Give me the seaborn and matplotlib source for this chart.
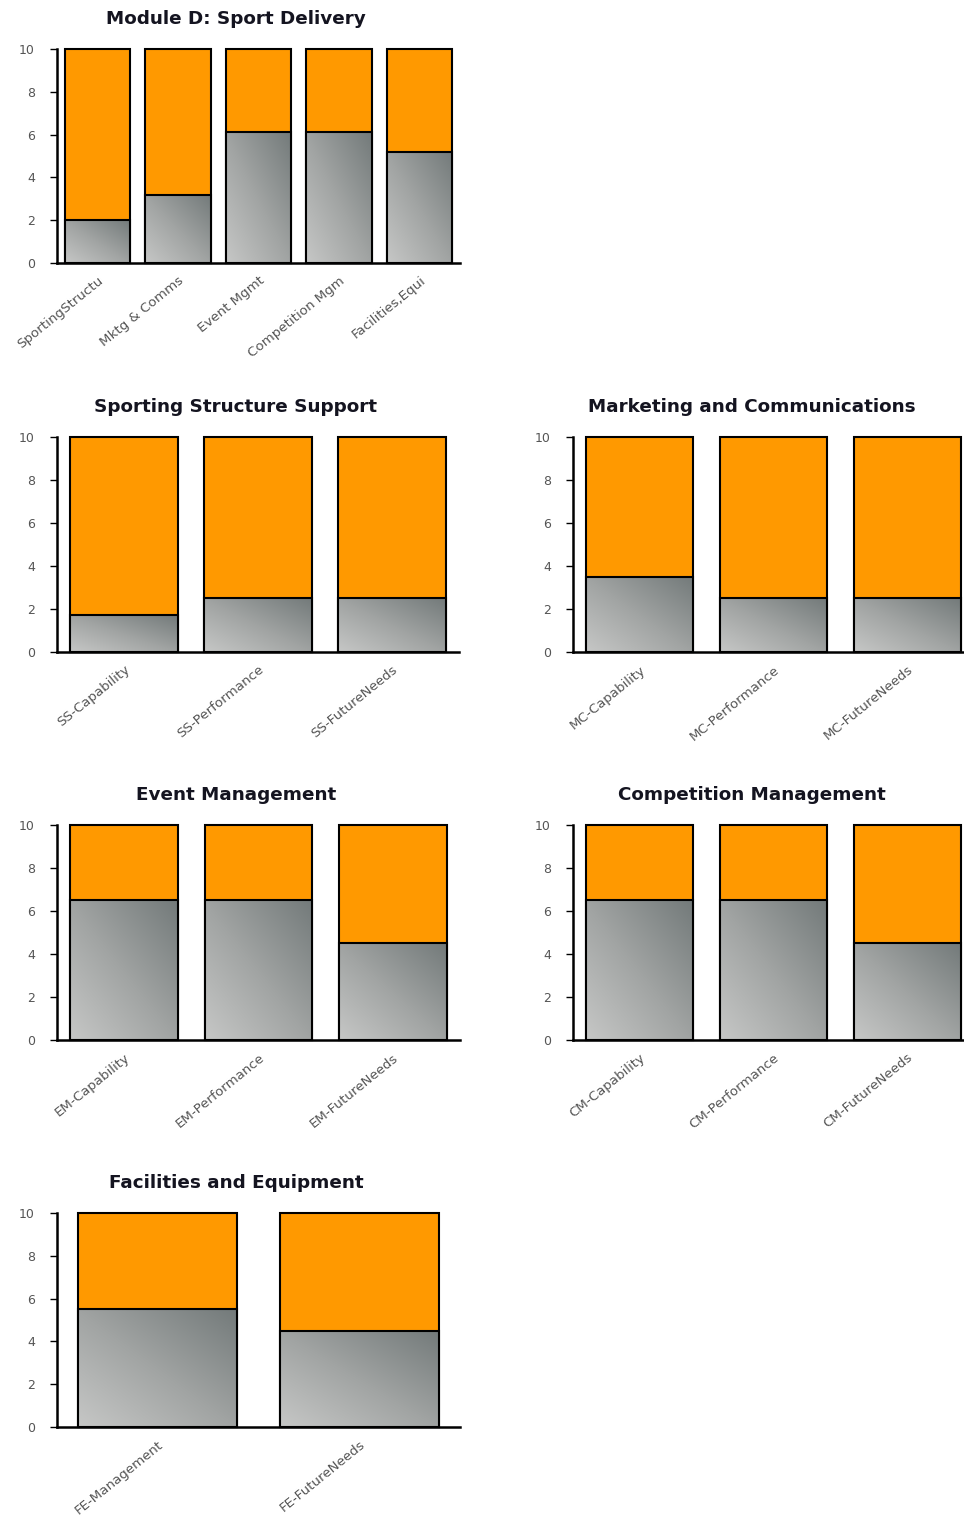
import numpy as np
import pandas as pd
import matplotlib
matplotlib.use("Agg")
import matplotlib.pyplot as plt
import seaborn as sns
from matplotlib.colors import LinearSegmentedColormap

sns.set_theme(style="white")
plt.rcParams["font.family"] = ["DejaVu Sans"]

MAX_SCORE = 10

overview_title = "Module D: Sport Delivery"
overview_labels = ["SportingStructu", "Mktg & Comms", "Event Mgmt", "Competition Mgm", "Facilities,Equi"]
overview_scores = [2.0, 3.2, 6.1, 6.1, 5.2]

ss_title = "Sporting Structure Support"
ss_labels = ["SS-Capability", "SS-Performance", "SS-FutureNeeds"]
ss_scores = [1.7, 2.5, 2.5]

mc_title = "Marketing and Communications"
mc_labels = ["MC-Capability", "MC-Performance", "MC-FutureNeeds"]
mc_scores = [3.5, 2.5, 2.5]

em_title = "Event Management"
em_labels = ["EM-Capability", "EM-Performance", "EM-FutureNeeds"]
em_scores = [6.5, 6.5, 4.5]

cm_title = "Competition Management"
cm_labels = ["CM-Capability", "CM-Performance", "CM-FutureNeeds"]
cm_scores = [6.5, 6.5, 4.5]

fe_title = "Facilities and Equipment"
fe_labels = ["FE-Management", "FE-FutureNeeds"]
fe_scores = [5.5, 4.5]

ORANGE = "#ff9900"
steel = LinearSegmentedColormap.from_list("steel", ["#c6c7c6", "#a0a3a2", "#737a7a"])

W, H = 964, 1519
fig = plt.figure(figsize=(W / 100, H / 100), dpi=100)


def add_axes_px(left, right, top, bottom):
    return fig.add_axes([left / W, 1 - bottom / H, (right - left) / W, (bottom - top) / H])


def panel(ax, title, labels, scores, width):
    df = pd.DataFrame({"item": labels, "score": scores, "max": [MAX_SCORE] * len(labels)})
    # full-scale orange bar behind the score
    sns.barplot(data=df, x="item", y="max", color=ORANGE, saturation=1, width=width,
                edgecolor="black", linewidth=1.5, ax=ax, zorder=1)
    n_back = len(ax.patches)
    sns.barplot(data=df, x="item", y="score", color="#9ea1a0", saturation=1, width=width,
                edgecolor="black", linewidth=1.5, ax=ax, zorder=3)
    for p in ax.patches:
        p.set_clip_on(False)
    # diagonal steel gradient inside each score bar
    g = np.linspace(0, 1, 128)
    grad = (g[None, :] + g[:, None]) / 2
    for p in ax.patches[n_back:]:
        x0, y0, w, h = p.get_x(), p.get_y(), p.get_width(), p.get_height()
        im = ax.imshow(grad, cmap=steel, origin="lower", extent=(x0, x0 + w, y0, y0 + h),
                       aspect="auto", zorder=2, interpolation="bilinear")
        im.set_clip_path(p)
        p.set_facecolor("none")
    ax.set_xlim(-0.5, len(labels) - 0.5)
    ax.set_ylim(0, MAX_SCORE)
    ax.set_yticks(range(0, 11, 2))
    ax.set_xlabel("")
    ax.set_ylabel("")
    ax.set_xticks(range(len(labels)))
    ax.set_xticklabels(labels, rotation=39, ha="right", rotation_mode="anchor")
    ax.tick_params(axis="y", left=True, length=5, width=1, color="black",
                   labelsize=9, labelcolor="#555555", pad=11)
    ax.tick_params(axis="x", bottom=False, labelsize=9.6, labelcolor="#555555", pad=2)
    for s in ("top", "right"):
        ax.spines[s].set_visible(False)
    for s in ("left", "bottom"):
        ax.spines[s].set_color("black")
        ax.spines[s].set_linewidth(1.8)
    ax.set_facecolor("white")
    ax.text(0.445, 1 + 30 / 214, title, transform=ax.transAxes, ha="center", va="center",
            fontsize=13.2, fontweight="bold", color="#141420")


panel(add_axes_px(57, 460, 49, 263), overview_title, overview_labels, overview_scores, 0.81)
panel(add_axes_px(57, 459, 437, 652), ss_title, ss_labels, ss_scores, 0.8)
panel(add_axes_px(573, 974, 437, 652), mc_title, mc_labels, mc_scores, 0.8)
panel(add_axes_px(57, 460, 825, 1040), em_title, em_labels, em_scores, 0.8)
panel(add_axes_px(573, 974, 825, 1040), cm_title, cm_labels, cm_scores, 0.8)
panel(add_axes_px(57, 460, 1213, 1427), fe_title, fe_labels, fe_scores, 0.79)

fig.savefig("out.png", dpi=100, facecolor="white")
